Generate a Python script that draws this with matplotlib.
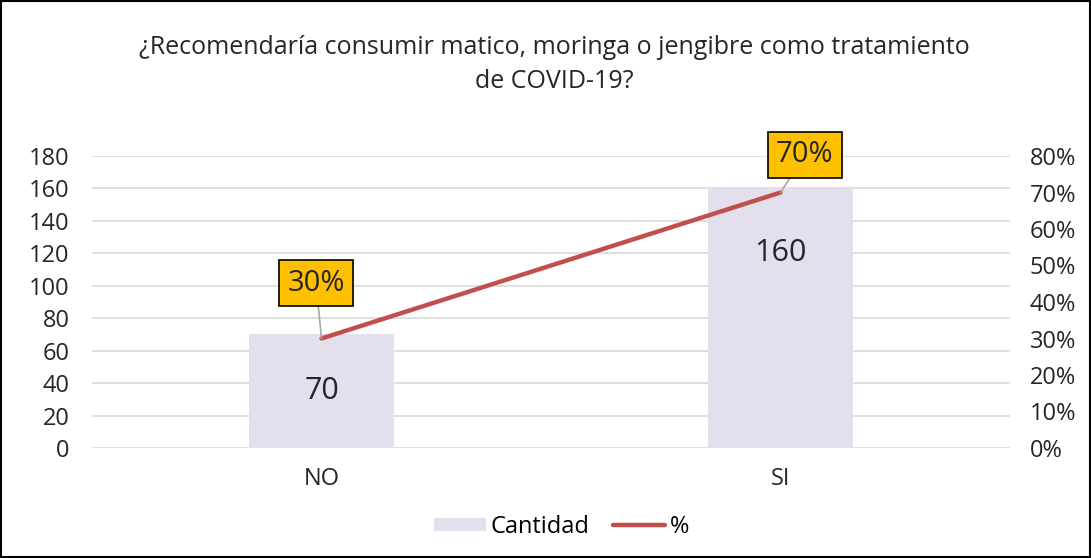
import matplotlib.pyplot as plt
from matplotlib.patches import Rectangle

plt.rcParams['font.family'] = ['Open Sans', 'DejaVu Sans']

categories = ["NO", "SI"]
cantidad = [70, 160]
porcentaje = [0.30, 0.70]
left_ticks = [0, 20, 40, 60, 80, 100, 120, 140, 160, 180]
right_ticks = [0, 0.1, 0.2, 0.3, 0.4, 0.5, 0.6, 0.7, 0.8]

fig = plt.figure(figsize=(10.91, 5.58), dpi=100)
ax = fig.add_axes([92 / 1091, 1 - 448 / 558, 918 / 1091, 292 / 558])
ax2 = ax.twinx()

x = list(range(len(categories)))
bars = ax.bar(x, cantidad, width=0.316, color="#E4DFEC", label="Cantidad", zorder=2)
ax.set_xlim(-0.5, 1.5)
ax.set_ylim(0, 180)
ax.set_yticks(left_ticks)
ax.set_xticks(x)
ax.set_xticklabels(categories)
ax.grid(axis="y", color="#D9D9D9", linewidth=1.2, zorder=0)
ax.set_axisbelow(True)
for s in ax.spines.values():
    s.set_visible(False)
for s in ax2.spines.values():
    s.set_visible(False)
ax.tick_params(axis="both", length=0, labelsize=17, pad=16, labelcolor="#262626")
ax.tick_params(axis="x", pad=14)

for xi, v in zip(x, cantidad):
    ax.text(xi, v / 2 if v < 100 else v - 40, str(v), ha="center", va="center",
            fontsize=22, color="#262626", zorder=3)

line, = ax2.plot(x, porcentaje, color="#C0504D", linewidth=3.2, label="%",
                 solid_capstyle="round", zorder=4)
ax2.set_ylim(0, 0.8)
ax2.set_yticks(right_ticks)
ax2.set_yticklabels([f"{int(round(t * 100))}%" for t in right_ticks])
ax2.tick_params(axis="y", length=0, labelsize=17, pad=14, labelcolor="#262626")

# etiquetas de porcentaje con líneas guía
offsets = [(-0.012, 0.152), (0.053, 0.103)]
for xi, p, (dx, dy) in zip(x, porcentaje, offsets):
    ax2.annotate(f"{int(round(p * 100))}%", xy=(xi, p), xytext=(xi + dx, p + dy),
                 ha="center", va="center", fontsize=21, color="#262626",
                 bbox=dict(boxstyle="square,pad=0.28", fc="#FFC000", ec="black", lw=1.2),
                 arrowprops=dict(arrowstyle="-", color="#A6A6A6", lw=1.2,
                                 shrinkA=0, shrinkB=0),
                 zorder=5)

fig.text(0.508, 1 - 48 / 558, "¿Recomendaría consumir matico, moringa o jengibre como tratamiento",
         ha="center", va="center", fontsize=18, color="#262626")
fig.text(0.508, 1 - 82 / 558, "de COVID-19?", ha="center", va="center",
         fontsize=18, color="#262626")

fig.legend([bars, line], ["Cantidad", "%"], loc="center", bbox_to_anchor=(0.515, 1 - 527 / 558),
           ncol=2, frameon=False, fontsize=17, handlelength=2.2, handleheight=0.5,
           handletextpad=0.2, columnspacing=1.0)

fig.add_artist(Rectangle((0.001, 0.001), 0.998, 0.998, transform=fig.transFigure,
                         fill=False, ec="black", lw=1.5))

fig.savefig("out.png", dpi=100)
